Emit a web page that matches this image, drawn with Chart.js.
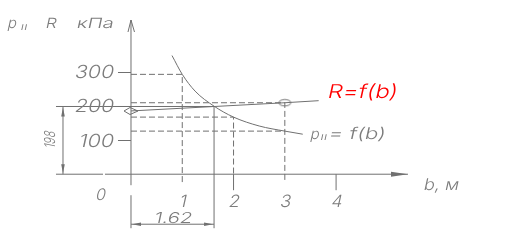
<!DOCTYPE html>
<html><head><meta charset="utf-8">
<script src="https://cdn.jsdelivr.net/npm/chart.js@4.4.1/dist/chart.umd.min.js"></script>
<style>html,body{margin:0;padding:0;background:#fff;overflow:hidden}canvas{display:block}</style>
</head><body>
<canvas id="c" width="511" height="242"></canvas>
<script>
// ---- data ----
const curveB = [0.8, 1.0, 1.25, 1.62, 2.0, 2.5, 3.0, 3.35];   // b, m
const curveP = [347, 292, 243, 199, 167, 141, 126, 117];      // p_II, kPa
const lineB  = [0, 3.0, 3.66];                                // b, m
const lineR  = [185, 209, 215];                               // R, kPa
const guideB = [1, 2, 3];
const guideP = [292, 167, 126];
const guideR = 209;              // R at b = 3
const dimB = 1.62;               // intersection b
const dimR = 198;                // intersection value
const xTicks = [0, 1, 2, 3, 4];
const xTickLabels = ['0', '1', '2', '3', '4'];
const yTicks = [100, 200, 300];
const yTickLabels = ['100', '200', '300'];

const LINE = '#707070', TEXT = '#7c7c7c', RED = '#ff0000';
const FONT = '"Inter", "Lato", "Liberation Sans", sans-serif';

function mk(w, h, draw) {
  const c = document.createElement('canvas'); c.width = w; c.height = h;
  const g = c.getContext('2d'); g.strokeStyle = LINE; g.lineWidth = 1; draw(g); return c;
}
const diamond = mk(16, 10, g => { g.beginPath(); g.moveTo(1, 5); g.lineTo(7, 1.5); g.lineTo(15, 5); g.lineTo(7, 8.5); g.closePath(); g.stroke(); });
const ellipse = mk(15, 9, g => { g.beginPath(); g.ellipse(7.5, 4.5, 6, 3.2, 0, 0, Math.PI * 2); g.stroke(); });

const dash = [6, 3];
const datasets = [
  { data: curveB.map((b, i) => ({ x: b, y: curveP[i] })), cubicInterpolationMode: 'monotone', tension: 0.4 },
  { data: lineB.map((b, i) => ({ x: b, y: lineR[i] })), pointStyle: [diamond, ellipse, false], pointRadius: [4, 4, 0] },
  { data: [{ x: 0, y: guideP[0] }, { x: guideB[0], y: guideP[0] }, { x: guideB[0], y: -26 }], borderDash: dash },
  { data: [{ x: 0, y: guideP[1] }, { x: guideB[1], y: guideP[1] }, { x: guideB[1], y: 0 }], borderDash: dash },
  { data: [{ x: 0, y: guideR }, { x: guideB[2], y: guideR }, { x: guideB[2], y: -24 }], borderDash: dash },
  { data: [{ x: 0, y: guideP[2] }, { x: guideB[2], y: guideP[2] }], borderDash: dash },
].map(d => Object.assign({ showLine: true, borderColor: LINE, borderWidth: 1, pointRadius: 0, fill: false, clip: false }, d));

function T(ctx, s, x, y, size, o = {}) {
  ctx.save();
  ctx.translate(x, y);
  if (o.rot) ctx.rotate(o.rot);
  ctx.font = `${o.weight || 300} ${size}px ${FONT}`;
  const m = ctx.measureText(s).width;
  const sx = o.w ? o.w / m : 1.2;
  ctx.transform(sx, 0, o.skew === undefined ? -0.22 : o.skew, 1, 0, 0);
  ctx.textAlign = o.align || 'left';
  ctx.textBaseline = 'alphabetic';
  ctx.fillStyle = o.color || TEXT;
  ctx.fillText(s, 0, 0);
  ctx.restore();
}

const cad = {
  id: 'cad',
  afterDatasetsDraw(chart) {
    const { ctx, scales: { x, y } } = chart;
    const X = v => x.getPixelForValue(v), Y = v => y.getPixelForValue(v);
    const x0 = X(0), y0 = Y(0);
    ctx.save();
    ctx.strokeStyle = LINE; ctx.fillStyle = LINE; ctx.lineWidth = 1; ctx.setLineDash([]);
    const seg = (a, b, c, d) => { ctx.beginPath(); ctx.moveTo(a, b); ctx.lineTo(c, d); ctx.stroke(); };
    const tri = (p) => { ctx.beginPath(); ctx.moveTo(p[0], p[1]); ctx.lineTo(p[2], p[3]); ctx.lineTo(p[4], p[5]); ctx.closePath(); ctx.fill(); };
    // x axis
    seg(x0 - 75, y0, x0 - 28, y0);
    seg(x0 - 26, y0, x0 + 277, y0);
    tri([x0 + 260, y0 - 2.5, x0 + 277, y0, x0 + 260, y0 + 2.5]);
    // y axis
    seg(x0, y0 + 11, x0, 20);
    ctx.beginPath(); ctx.moveTo(x0 - 3, 32); ctx.lineTo(x0, 20); ctx.lineTo(x0 + 3.5, 32); ctx.stroke();
    seg(x0, y0 + 21, x0, y0 + 54);
    // y ticks
    yTicks.forEach(v => seg(x0 - 13, Math.round(Y(v)) + 0.5, x0, Math.round(Y(v)) + 0.5));
    // x ticks (long ones at 2 and 4)
    xTicks.forEach(v => { if (v > 0 && v % 2 === 0) seg(X(v), y0, X(v), y0 + 16); });
    // dimension dimR
    const xd = x0 - 68, yr = Y(dimR);
    seg(x0 - 75, yr, X(dimB), yr);
    seg(xd, yr, xd, y0);
    tri([xd, yr + 1, xd - 1.8, yr + 10, xd + 1.8, yr + 10]);
    tri([xd, y0 - 1, xd - 1.8, y0 - 10, xd + 1.8, y0 - 10]);
    // dimension dimB
    const xb = X(dimB), yd = y0 + 50;
    seg(xb, yr, xb, y0 + 54);
    seg(x0, yd, xb, yd);
    tri([x0 + 1, yd, x0 + 10, yd - 1.8, x0 + 10, yd + 1.8]);
    tri([xb - 1, yd, xb - 10, yd - 1.8, xb - 10, yd + 1.8]);

    // ---- texts ----
    T(ctx, 'p', 7, 28, 15, { w: 9 });
    T(ctx, 'II', 20, 30, 8, { w: 7 });
    T(ctx, 'R', 45, 28, 14, { w: 11 });
    T(ctx, 'кПа', 76, 28, 14, { w: 37 });
    yTicks.forEach((v, i) => T(ctx, yTickLabels[i], x0 - 18, Y(v) + 6.5, 18, { w: yTickLabels[i] === '100' ? 35 : 39, align: 'right' }));
    xTicks.forEach((v, i) => {
      if (v === 0) T(ctx, xTickLabels[i], x0 - 31, y0 + 26, 16, { w: 10, align: 'center' });
      else T(ctx, xTickLabels[i], X(v), y0 + 33, 17, { w: xTickLabels[i] === '1' ? 7 : 11, align: 'center' });
    });
    T(ctx, 'b, м', x0 + 292, y0 + 16, 16, { w: 35 });
    const rEnd = lineB.length - 1;
    T(ctx, 'R=f(b)', X(lineB[rEnd]) + 8, Y(lineR[rEnd]) - 3, 19, { w: 70, color: RED });
    const pEnd = curveB.length - 1;
    const px = X(curveB[pEnd]) + 7, py = Y(curveP[pEnd]) + 5;
    T(ctx, 'p', px, py, 15, { w: 9 });
    T(ctx, 'II', px + 10, py + 1, 8, { w: 7 });
    T(ctx, '= f(b)', px + 18, py, 16, { w: 57 });
    T(ctx, String(dimR), xd - 7.5, (yr + y0) / 2, 15, { w: 17, align: 'center', rot: -Math.PI / 2 });
    T(ctx, String(dimB), (x0 + xb) / 2, yd - 1, 15, { w: 38, align: 'center' });
    ctx.restore();
  }
};

const XMIN = -128.5 / 52.3, YMAX = 176.5 / 0.3567;
new Chart(document.getElementById('c'), {
  type: 'scatter',
  data: { datasets },
  options: {
    responsive: false, animation: false, devicePixelRatio: 1, events: [],
    layout: { padding: 0 },
    plugins: { legend: { display: false }, tooltip: { enabled: false } },
    scales: {
      x: { type: 'linear', display: false, min: XMIN, max: XMIN + 511 / 52.3 },
      y: { type: 'linear', display: false, min: YMAX - 242 / 0.3567, max: YMAX }
    }
  },
  plugins: [cad]
});
</script>
</body></html>
